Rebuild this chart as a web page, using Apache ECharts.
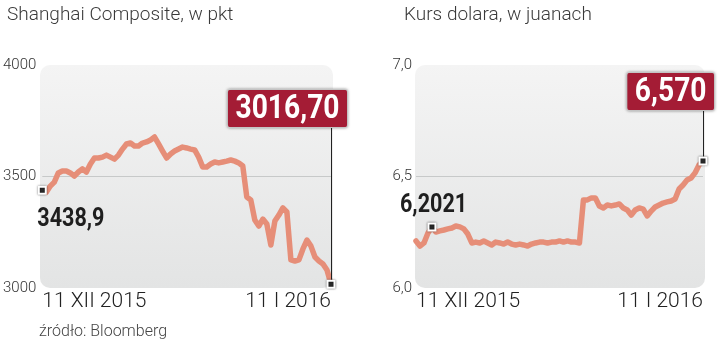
<!DOCTYPE html>
<html><head><meta charset="utf-8">
<script src="https://cdn.jsdelivr.net/npm/echarts@6/dist/echarts.min.js"></script>
<style>html,body{margin:0;padding:0;background:#fff}#c{width:720px;height:339px}</style>
</head><body><div id="c"></div>
<script>
const titles = ['Shanghai Composite, w pkt', 'Kurs dolara, w juanach'];
const sourceText = 'źródło: Bloomberg';
const dateLabels = ['11 XII 2015', '11 I 2016'];
const shValues = [3438.9, 3430, 3457, 3475, 3516, 3525, 3525, 3516, 3502, 3520,
 3534, 3520, 3556, 3583, 3583, 3587, 3596, 3587, 3578, 3596,
 3623, 3646, 3650, 3637, 3637, 3650, 3655, 3664, 3677, 3646,
 3614, 3583, 3601, 3614, 3623, 3632, 3628, 3623, 3619, 3587,
 3543, 3543, 3556, 3565, 3561, 3565, 3569, 3574, 3569, 3561,
 3547, 3408, 3395, 3305, 3278, 3309, 3287, 3193, 3300, 3327,
 3359, 3341, 3126, 3121, 3126, 3175, 3215, 3188, 3139, 3121,
 3108, 3081, 3016.7];
const cnyValues = [6.211, 6.188, 6.202, 6.247, 6.274, 6.251, 6.256, 6.260, 6.265, 6.269,
 6.278, 6.274, 6.265, 6.242, 6.202, 6.206, 6.202, 6.211, 6.202, 6.193,
 6.206, 6.202, 6.197, 6.206, 6.197, 6.193, 6.197, 6.193, 6.188, 6.197,
 6.202, 6.206, 6.206, 6.202, 6.206, 6.206, 6.211, 6.206, 6.211, 6.206,
 6.206, 6.202, 6.395, 6.395, 6.404, 6.404, 6.368, 6.359, 6.372, 6.368,
 6.372, 6.377, 6.359, 6.350, 6.327, 6.350, 6.359, 6.354, 6.323, 6.345,
 6.363, 6.372, 6.381, 6.386, 6.390, 6.399, 6.444, 6.462, 6.484, 6.493,
 6.516, 6.552, 6.570];
const shAxis = {min: 3000, max: 4000, interval: 500};
const cnyAxis = {min: 6.0, max: 7.0, interval: 0.5};
const shStartLabel = '3438,9', shEndLabel = '3016,70';
const cnyStartLabel = '6,2021', cnyEndLabel = '6,570';
const shStartIndex = 0, cnyStartIndex = 4;
const shBoxAnchor = 3722, cnyBoxAnchor = 6.798;

const LIGHT = 'Roboto';
const G = [
  {left: 41, top: 65, width: 290, height: 223},
  {left: 416, top: 65, width: 287, height: 223}
];
const cats = shValues.map((_, i) => String(i));
const cats2 = cnyValues.map((_, i) => String(i));

const markerStyle = {color: '#2a2a2a', borderColor: '#ffffff', borderWidth: 2, shadowColor: 'rgba(0,0,0,0.55)', shadowBlur: 2};

function xAxisFor(i, data) {
  const last = data.length - 1;
  return {
    type: 'category', gridIndex: i, data: data, boundaryGap: false,
    axisLine: {show: false}, axisTick: {show: false}, splitLine: {show: false},
    axisLabel: {
      show: true, margin: 3, fontFamily: LIGHT, fontWeight: 300, fontSize: 21, color: '#222',
      interval: (idx) => idx === 0 || idx === last,
      formatter: (v, idx) => idx === 0 ? dateLabels[0] : dateLabels[1],
      alignMinLabel: 'left', alignMaxLabel: 'right', showMinLabel: true, showMaxLabel: true
    }
  };
}
function yAxisFor(i, ax, fmt, margin) {
  return {
    type: 'value', gridIndex: i, min: ax.min, max: ax.max, interval: ax.interval,
    axisLine: {show: false}, axisTick: {show: false},
    splitLine: {show: true, lineStyle: {color: ['rgba(0,0,0,0)', '#c7c9c9', 'rgba(0,0,0,0)'], width: 1}},
    axisLabel: {margin: margin, fontFamily: LIGHT, fontWeight: 300, fontSize: 15, color: '#333', formatter: fmt}
  };
}
function seriesFor(i, values, startIdx, anchor) {
  const last = values.length - 1;
  return {
    type: 'line', xAxisIndex: i, yAxisIndex: i, data: values, showSymbol: false, symbol: 'none',
    lineStyle: {color: '#e68e78', width: 5.5, join: 'round', cap: 'round'},
    silent: true, animation: false,
    markLine: {
      silent: true, symbol: 'none', animation: false,
      lineStyle: {color: '#222', width: 1, type: 'solid'}, label: {show: false},
      data: [[{coord: [last, values[last]]}, {coord: [last, anchor]}]]
    },
    markPoint: {
      silent: true, animation: false, label: {show: false},
      data: [
        {coord: [startIdx, values[startIdx]], symbol: 'rect', symbolSize: 7, itemStyle: markerStyle},
        {coord: [last, values[last]], symbol: 'rect', symbolSize: 7, itemStyle: markerStyle}
      ]
    }
  };
}

const bgRects = G.map((g, i) => ({
  type: 'rect', id: 'bg' + i, z: -10, silent: true,
  shape: {x: g.left - 1, y: g.top, width: g.width + 3, height: g.height, r: 10},
  style: {fill: {type: 'linear', x: 0, y: 0, x2: 0, y2: 1,
    colorStops: [{offset: 0, color: '#f4f4f4'}, {offset: 1, color: '#e3e4e4'}]}}
}));

const chart = echarts.init(document.getElementById('c'), null, {renderer: 'canvas'});
chart.setOption({
  animation: false,
  title: [
    {text: titles[0], left: 2, top: 1, textStyle: {fontFamily: LIGHT, fontWeight: 300, fontSize: 19, color: '#3a3a3a'}},
    {text: titles[1], left: 399, top: 1, textStyle: {fontFamily: LIGHT, fontWeight: 300, fontSize: 19, color: '#3a3a3a'}},
    {text: sourceText, left: 34, top: 319, textStyle: {fontFamily: LIGHT, fontWeight: 300, fontSize: 16, color: '#444'}}
  ],
  graphic: bgRects,
  grid: G.map(g => ({left: g.left, top: g.top, width: g.width, height: g.height, containLabel: false})),
  xAxis: [xAxisFor(0, cats), xAxisFor(1, cats2)],
  yAxis: [
    yAxisFor(0, shAxis, v => String(v), 6),
    yAxisFor(1, cnyAxis, v => v.toFixed(1).replace('.', ','), 4)
  ],
  series: [
    seriesFor(0, shValues, shStartIndex, shBoxAnchor),
    seriesFor(1, cnyValues, cnyStartIndex, cnyBoxAnchor)
  ]
});

// value labels (condensed look via horizontal scaling), anchored to data points
const SX = 0.83;
function startText(id, p, dx, dy, text) {
  return {type: 'text', id: id, x: p[0] + dx, y: p[1] + dy, scaleX: SX, z: 100, silent: true,
    style: {text: text, x: 0, y: 0, font: 'bold 26px Roboto', fill: '#1e1e1e', align: 'left', verticalAlign: 'top'}};
}
function boxText(id, p, dx, text) {
  return {type: 'text', id: id, x: p[0] + dx, y: p[1], scaleX: SX, z: 100, silent: true,
    style: {text: text, x: 0, y: 0, font: 'bold 34px Roboto', lineHeight: 33, fill: '#ffffff',
      align: 'right', verticalAlign: 'bottom', backgroundColor: '#a41c35',
      borderColor: '#e0e0e0', borderWidth: 1, borderRadius: 2, padding: [3, 9, 1, 9],
      shadowColor: 'rgba(0,0,0,0.35)', shadowBlur: 3}};
}
const shLast = shValues.length - 1, cnyLast = cnyValues.length - 1;
const pS0 = chart.convertToPixel({gridIndex: 0}, [shStartIndex, shValues[shStartIndex]]);
const pS1 = chart.convertToPixel({gridIndex: 0}, [shLast, shBoxAnchor]);
const pC0 = chart.convertToPixel({gridIndex: 1}, [cnyStartIndex, cnyValues[cnyStartIndex]]);
const pC1 = chart.convertToPixel({gridIndex: 1}, [cnyLast, cnyBoxAnchor]);
chart.setOption({
  graphic: bgRects.concat([
    startText('s0', pS0, -5, 16, shStartLabel),
    boxText('b0', pS1, 16, shEndLabel),
    startText('s1', pC0, -32, -34, cnyStartLabel),
    boxText('b1', pC1, 11, cnyEndLabel)
  ])
});
</script></body></html>
